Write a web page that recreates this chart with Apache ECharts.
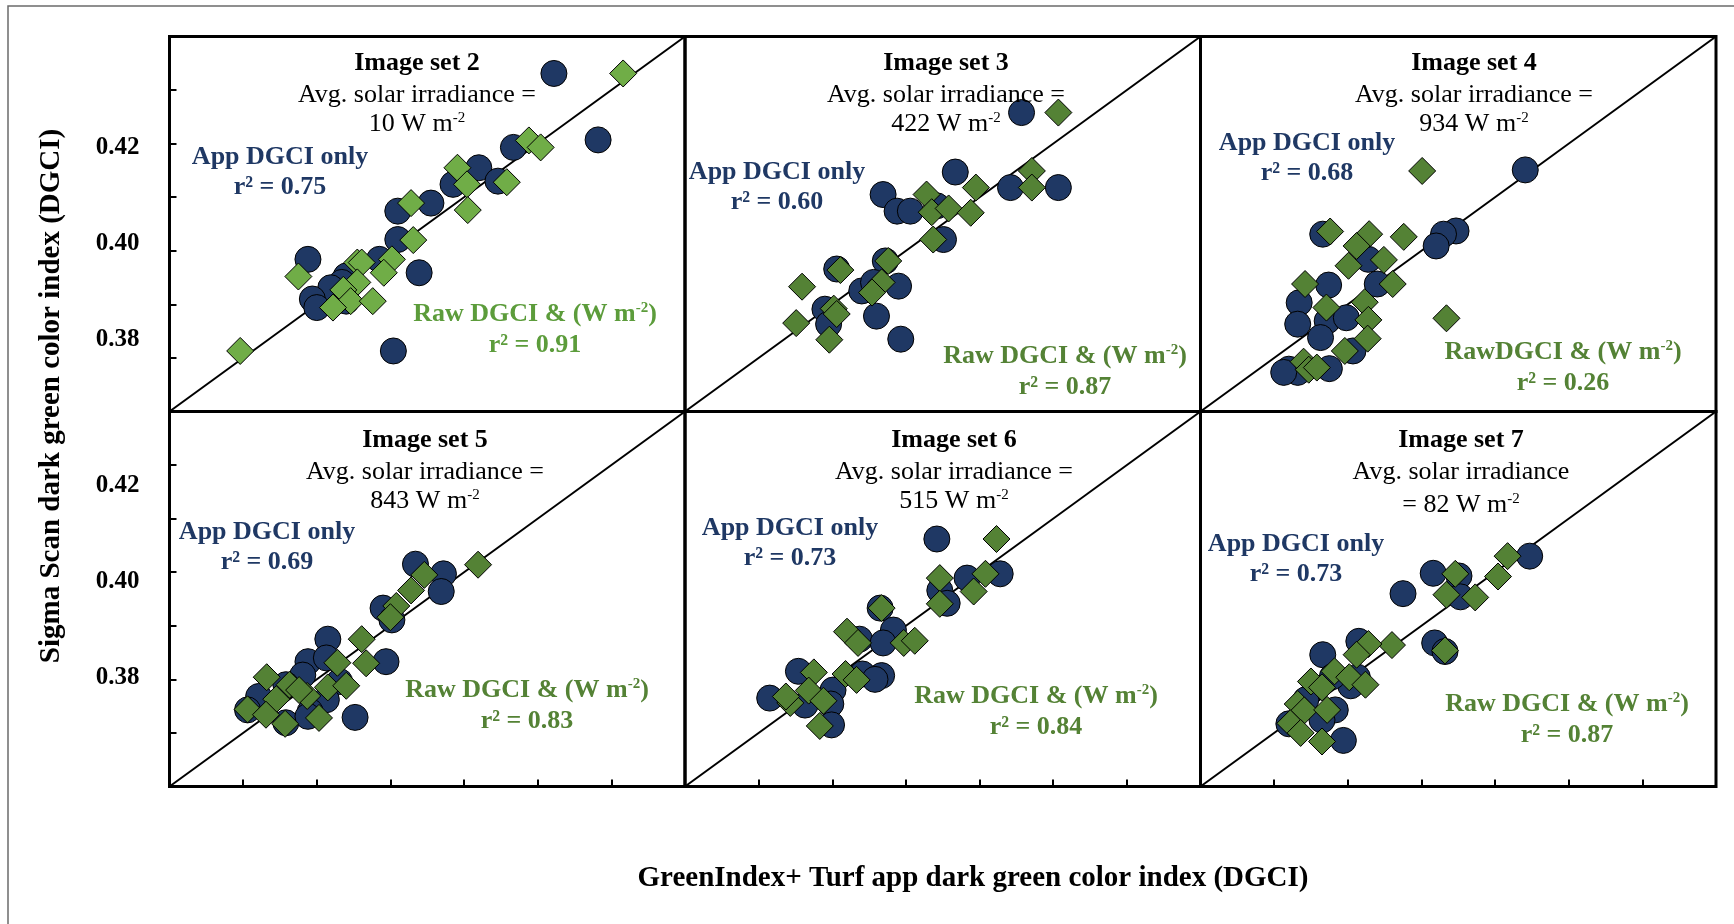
<!DOCTYPE html>
<html><head><meta charset="utf-8">
<script src="https://cdn.jsdelivr.net/npm/echarts@6/dist/echarts.min.js"></script>
<style>html,body{margin:0;padding:0;background:#fff;}#c{width:1734px;height:924px;}</style>
</head><body><div id="c"></div>
<script>
// ---------- data ----------
const axisMin = 0.37, axisMax = 0.44, axisStep = 0.01;
const oneToOne = [0.37, 0.44];
const yTickLabels = [0.38, 0.40, 0.42];
const panelNames = ['Image set 2','Image set 3','Image set 4','Image set 5','Image set 6','Image set 7'];
const irradianceLine1 = ['Avg. solar irradiance =','Avg. solar irradiance =','Avg. solar irradiance =','Avg. solar irradiance =','Avg. solar irradiance =','Avg. solar irradiance'];
const irradianceLine2 = ['10 W m{s|-2}','422 W m{s|-2}','934 W m{s|-2}','843 W m{s|-2}','515 W m{s|-2}','= 82 W m{s|-2}'];
const appLabel = 'App DGCI only';
const appR2 = ['0.75','0.60','0.68','0.69','0.73','0.73'];
const rawLabels = ['Raw DGCI & (W m{s|-2})','Raw DGCI & (W m{s|-2})','RawDGCI & (W m{s|-2})','Raw DGCI & (W m{s|-2})','Raw DGCI & (W m{s|-2})','Raw DGCI & (W m{s|-2})'];
const rawR2 = ['0.91','0.87','0.26','0.83','0.84','0.87'];
const xTitle = 'GreenIndex+ Turf app dark green color index (DGCI)';
const yTitle = 'Sigma Scan dark green color index (DGCI)';

const set2App = [[0.4222,0.4331],[0.4282,0.4207],[0.4167,0.4193],[0.4120,0.4155],[0.4085,0.4124],[0.4146,0.4130],[0.4055,0.4089],[0.4010,0.4074],[0.4010,0.4021],[0.3888,0.3984],[0.3985,0.3984],[0.4039,0.3959],[0.3940,0.3953],[0.3934,0.3941],[0.3919,0.3931],[0.3894,0.3910],[0.3900,0.3894],[0.3940,0.3906],[0.4004,0.3813]];
const set2Raw = [[0.4316,0.4331],[0.4188,0.4206],[0.4204,0.4193],[0.4091,0.4155],[0.4104,0.4124],[0.4158,0.4128],[0.4105,0.4076],[0.4028,0.4089],[0.4031,0.4020],[0.4002,0.3984],[0.3991,0.3959],[0.3955,0.3978],[0.3961,0.3978],[0.3955,0.3941],[0.3936,0.3927],[0.3946,0.3906],[0.3976,0.3906],[0.3922,0.3894],[0.3875,0.3952],[0.3796,0.3813]];
const set3App = [[0.4157,0.4258],[0.4067,0.4147],[0.3969,0.4105],[0.3988,0.4074],[0.4006,0.4074],[0.4042,0.4084],[0.4142,0.4118],[0.4207,0.4118],[0.4051,0.4021],[0.3972,0.3981],[0.3906,0.3966],[0.3940,0.3925],[0.3990,0.3934],[0.3956,0.3941],[0.3890,0.3891],[0.3895,0.3863],[0.3960,0.3878],[0.3993,0.3835]];
const set3Raw = [[0.4207,0.4258],[0.4171,0.4149],[0.4171,0.4118],[0.4095,0.4118],[0.4028,0.4105],[0.4035,0.4072],[0.4058,0.4079],[0.4088,0.4071],[0.4037,0.4021],[0.3976,0.3981],[0.3911,0.3964],[0.3967,0.3941],[0.3954,0.3922],[0.3859,0.3933],[0.3902,0.3892],[0.3906,0.3882],[0.3851,0.3865],[0.3896,0.3834]];
const set4App = [[0.4141,0.4151],[0.4047,0.4037],[0.4030,0.4031],[0.4020,0.4009],[0.3866,0.4031],[0.3928,0.3984],[0.3940,0.3938],[0.3874,0.3936],[0.3834,0.3903],[0.3832,0.3863],[0.3872,0.3869],[0.3898,0.3875],[0.3863,0.3838],[0.3907,0.3813],[0.3820,0.3779],[0.3832,0.3773],[0.3875,0.3780],[0.3813,0.3773]];
const set4Raw = [[0.4001,0.4149],[0.3876,0.4036],[0.3929,0.4031],[0.3976,0.4026],[0.3912,0.4009],[0.3949,0.3983],[0.3901,0.3972],[0.3961,0.3938],[0.3842,0.3938],[0.3871,0.3894],[0.3923,0.3904],[0.3928,0.3871],[0.4034,0.3874],[0.3927,0.3836],[0.3896,0.3813],[0.3840,0.3793],[0.3847,0.3778],[0.3858,0.3782]];
const set5App = [[0.4034,0.4115],[0.4072,0.4097],[0.4069,0.4064],[0.3990,0.4033],[0.4002,0.4011],[0.3915,0.3975],[0.3994,0.3933],[0.3888,0.3933],[0.3913,0.3940],[0.3881,0.3908],[0.3858,0.3890],[0.3931,0.3896],[0.3821,0.3868],[0.3913,0.3862],[0.3891,0.3840],[0.3806,0.3843],[0.3858,0.3819],[0.3952,0.3829],[0.3888,0.3831]];
const set5Raw = [[0.4119,0.4114],[0.4046,0.4095],[0.4028,0.4066],[0.4008,0.4037],[0.4000,0.4016],[0.3961,0.3975],[0.3928,0.3931],[0.3967,0.3930],[0.3832,0.3904],[0.3863,0.3890],[0.3915,0.3885],[0.3940,0.3888],[0.3887,0.3869],[0.3845,0.3863],[0.3806,0.3844],[0.3831,0.3834],[0.3903,0.3828],[0.3857,0.3817],[0.3876,0.3880]];
const set6App = [[0.4042,0.4162],[0.4128,0.4097],[0.4083,0.4089],[0.4046,0.4066],[0.4056,0.4042],[0.3965,0.4033],[0.3983,0.3992],[0.3937,0.3975],[0.3969,0.3968],[0.3854,0.3915],[0.3941,0.3910],[0.3967,0.3907],[0.3958,0.3900],[0.3815,0.3865],[0.3901,0.3880],[0.3863,0.3852],[0.3898,0.3854],[0.3899,0.3815]];
const set6Raw = [[0.4123,0.4162],[0.4108,0.4097],[0.4092,0.4064],[0.4046,0.4089],[0.4046,0.4041],[0.3967,0.4033],[0.3920,0.3989],[0.3935,0.3968],[0.3997,0.3968],[0.4012,0.3972],[0.3875,0.3913],[0.3918,0.3910],[0.3933,0.3899],[0.3868,0.3879],[0.3843,0.3856],[0.3888,0.3860],[0.3883,0.3813],[0.3837,0.3868]];
const set7App = [[0.4147,0.4130],[0.4016,0.4098],[0.4051,0.4093],[0.3975,0.4060],[0.4053,0.4054],[0.4018,0.3968],[0.4032,0.3952],[0.3915,0.3971],[0.3866,0.3946],[0.3913,0.3904],[0.3904,0.3888],[0.3879,0.3905],[0.3883,0.3843],[0.3820,0.3817],[0.3894,0.3786],[0.3865,0.3824],[0.3843,0.3862]];
const set7Raw = [[0.4117,0.4130],[0.4104,0.4092],[0.4046,0.4097],[0.4034,0.4058],[0.4073,0.4053],[0.3960,0.3964],[0.3928,0.3966],[0.3912,0.3946],[0.4032,0.3954],[0.3882,0.3915],[0.3902,0.3904],[0.3924,0.3890],[0.3850,0.3896],[0.3865,0.3885],[0.3832,0.3854],[0.3841,0.3842],[0.3872,0.3843],[0.3822,0.3818],[0.3836,0.3800],[0.3865,0.3784]];

const appData = [set2App, set3App, set4App, set5App, set6App, set7App];
const rawData = [set2Raw, set3Raw, set4Raw, set5Raw, set6Raw, set7Raw];

// ---------- layout / style ----------
const SERIF = '"Liberation Serif", "Times New Roman", serif';
const NAVY = '#1f3864';
const GREEN = '#548235';
const LIGHTGREEN = '#70ad47';
const RAWTEXT = ['#5c9c3b', GREEN, GREEN, GREEN, GREEN, GREEN];
const gridLefts = [169.5, 685, 1200.5];
const gridTops = [36.5, 411.5];
const GW = 515.5, GH = 375;
// text anchor centres per panel: [titleX, titleY, appX, appY, rawX, rawY]
const textPos = [
  [417, 63, 280, 157, 535, 314],
  [946, 63, 777, 172, 1065, 356],
  [1474, 63, 1307, 143, 1563, 352],
  [425, 440, 267, 532, 527, 690],
  [954, 440, 790, 528, 1036, 696],
  [1461, 440, 1296, 544, 1567, 704]
];
const labelAxisRange = [[0.3649, 0.44316], [0.3574, 0.4354]];

const grids = [], xAxes = [], yAxes = [], series = [], graphics = [];

for (let i = 0; i < 6; i++) {
  const col = i % 3, row = Math.floor(i / 3);
  grids.push({left: gridLefts[col], top: gridTops[row], width: GW, height: GH,
    show: true, borderColor: '#000', borderWidth: 3, backgroundColor: 'transparent'});
  const tick = {inside: true, length: 7, lineStyle: {color: '#000', width: 2}};
  xAxes.push({gridIndex: i, type: 'value', min: axisMin, max: axisMax, interval: axisStep,
    axisLine: {show: false, onZero: false}, axisTick: Object.assign({show: row === 1}, tick),
    axisLabel: {show: false}, splitLine: {show: false}});
  yAxes.push({gridIndex: i, type: 'value', position: 'left', min: axisMin, max: axisMax, interval: axisStep,
    axisLine: {show: false, onZero: false}, axisTick: Object.assign({show: col === 0}, tick),
    axisLabel: {show: false}, splitLine: {show: false}});
  series.push({type: 'line', xAxisIndex: i, yAxisIndex: i, data: oneToOne.map(v => [v, v]),
    symbol: 'none', silent: true, lineStyle: {color: '#000', width: 2}, z: 1});
  series.push({type: 'scatter', xAxisIndex: i, yAxisIndex: i, data: appData[i], symbol: 'circle', symbolSize: 26,
    itemStyle: {color: NAVY, borderColor: '#000', borderWidth: 1, opacity: 1}, z: 2});
  series.push({type: 'scatter', xAxisIndex: i, yAxisIndex: i, data: rawData[i], symbol: 'diamond', symbolSize: 27,
    itemStyle: {color: i === 0 ? LIGHTGREEN : GREEN, borderColor: '#000', borderWidth: 1, opacity: 1}, z: 3});

  // texts
  const p = textPos[i];
  const txt = (x, y, text, weight, color) => ({type: 'text', x: x, y: y, z: 100, silent: true,
    style: {text: text, fontSize: 26, fontFamily: SERIF, fontWeight: weight, fill: color, align: 'center', verticalAlign: 'middle',
      rich: {s: {fontSize: 15, fontFamily: SERIF, fontWeight: weight, fill: color, verticalAlign: 'top', lineHeight: 13}}}});
  graphics.push(txt(p[0], p[1], panelNames[i], 'bold', '#000'));
  graphics.push(txt(p[0], p[1] + 32, irradianceLine1[i], 'normal', '#000'));
  graphics.push(txt(p[0], p[1] + (i === 5 ? 65 : 61), irradianceLine2[i], 'normal', '#000'));
  graphics.push(txt(p[2], p[3], appLabel, 'bold', NAVY));
  graphics.push(txt(p[2], p[3] + 30, 'r² = ' + appR2[i], 'bold', NAVY));
  graphics.push(txt(p[4], p[5], rawLabels[i], 'bold', RAWTEXT[i]));
  graphics.push(txt(p[4], p[5] + 31, 'r² = ' + rawR2[i], 'bold', RAWTEXT[i]));
}

// label-only y axes (labels of the original sit slightly off the ticks)
[0, 3].forEach((g, k) => {
  yAxes.push({gridIndex: g, type: 'value', position: 'left', min: labelAxisRange[k][0], max: labelAxisRange[k][1],
    axisLine: {show: false}, axisTick: {show: false}, splitLine: {show: false},
    axisLabel: {show: true, customValues: yTickLabels, formatter: v => Number(v).toFixed(2), margin: 30,
      fontFamily: SERIF, fontWeight: 'bold', fontSize: 25, color: '#000'}});
});

// outer frame + axis titles
graphics.push({type: 'rect', z: 0, silent: true, shape: {x: 8, y: 6, width: 3000, height: 3000},
  style: {fill: 'none', stroke: '#6b6b6b', lineWidth: 1.5}});
graphics.push({type: 'text', x: 973, y: 879, z: 100, silent: true,
  style: {text: xTitle, fontSize: 29, fontFamily: SERIF, fontWeight: 'bold', fill: '#000', align: 'center', verticalAlign: 'middle'}});
graphics.push({type: 'text', x: 52, y: 396, rotation: Math.PI / 2, z: 100, silent: true,
  style: {text: yTitle, fontSize: 29, fontFamily: SERIF, fontWeight: 'bold', fill: '#000', align: 'center', verticalAlign: 'middle'}});

const chart = echarts.init(document.getElementById('c'), null, {renderer: 'canvas'});
chart.setOption({
  animation: false,
  backgroundColor: '#fff',
  grid: grids, xAxis: xAxes, yAxis: yAxes, series: series, graphic: graphics
});
</script></body></html>
